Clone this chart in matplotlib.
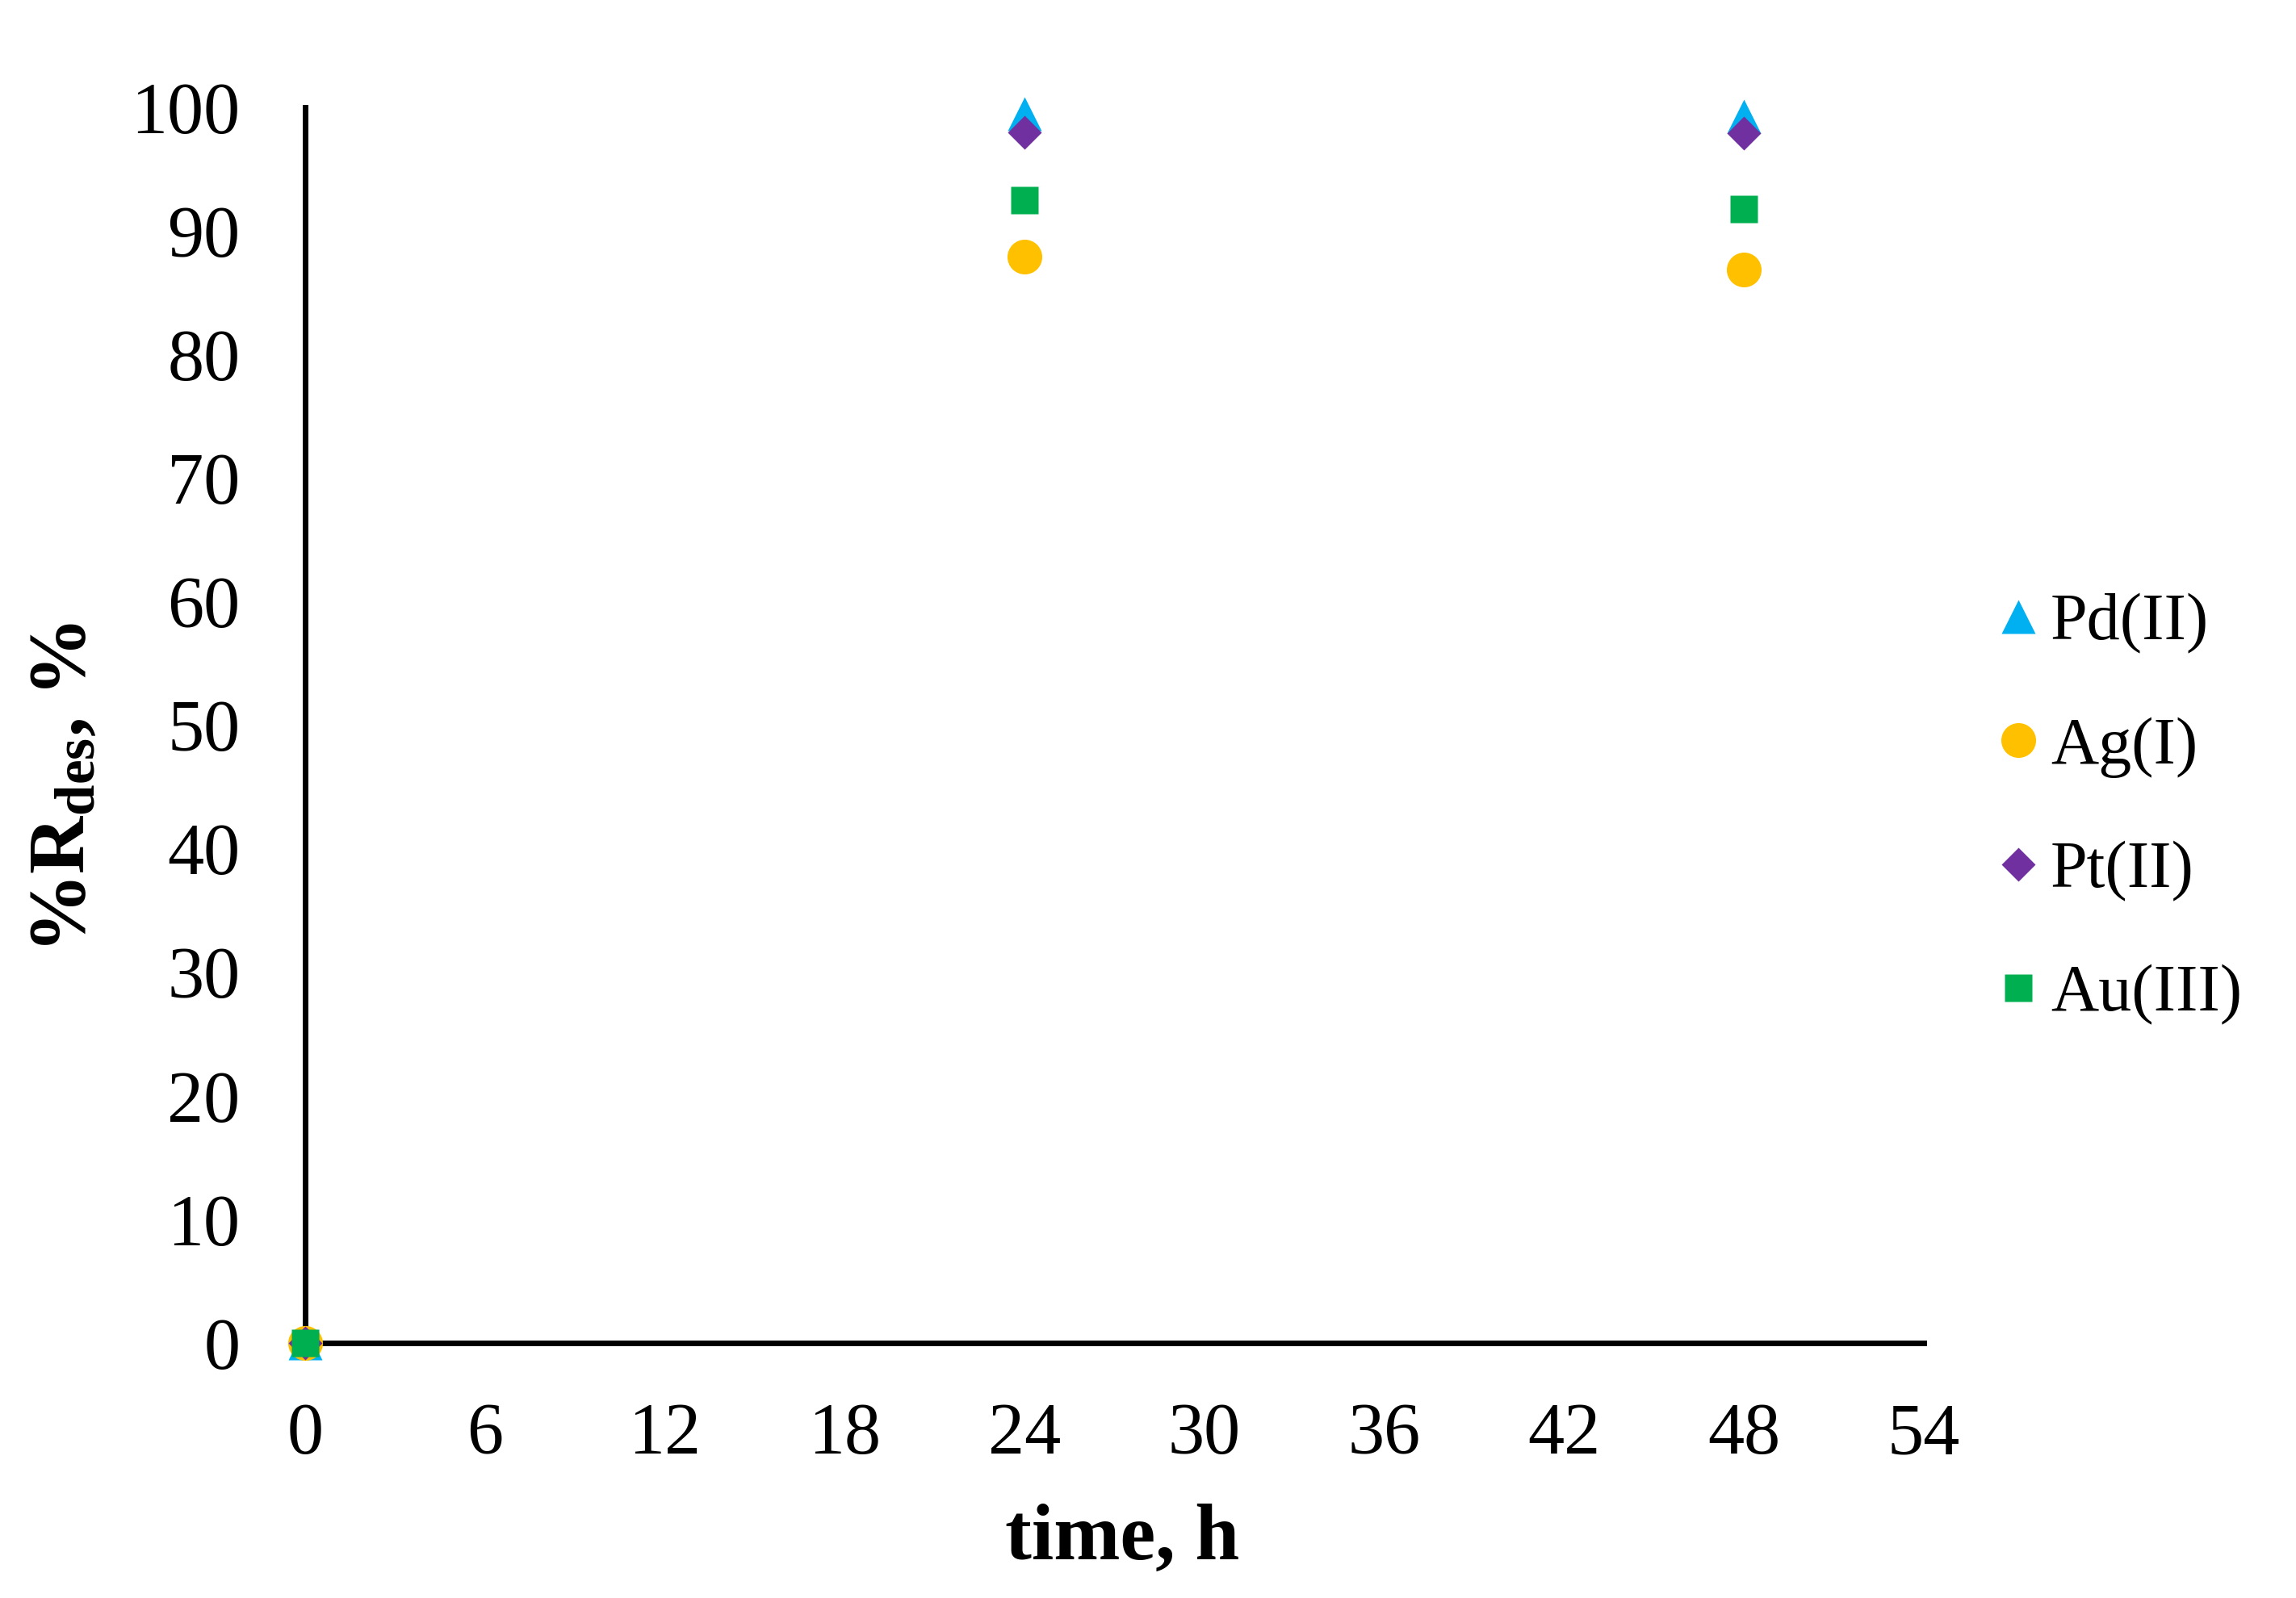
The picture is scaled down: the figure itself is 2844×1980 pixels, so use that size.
import matplotlib
matplotlib.use('Agg')
import matplotlib.pyplot as plt

# data
tiempo = [0, 24, 48]
pd_ii = [0, 99.5, 99.3]
ag_i = [0, 87.9, 86.9]
pt_ii = [0, 98.0, 97.9]
au_iii = [0, 92.5, 91.8]

xticks = list(range(0, 55, 6))
yticks = list(range(0, 101, 10))

plt.rcParams['font.family'] = 'Liberation Serif'
plt.rcParams['mathtext.fontset'] = 'custom'
plt.rcParams['mathtext.rm'] = 'Liberation Serif'
plt.rcParams['mathtext.bf'] = 'Liberation Serif:bold'

fig = plt.figure(figsize=(28.44, 19.80), dpi=100)
ax = fig.add_axes([378 / 2844, 1 - 1664 / 1980, (2383 - 378) / 2844, (1664 - 133) / 1980])

ax.plot(tiempo, pd_ii, linestyle='none', marker='^', ms=30, color='#00B0F0', mec='none', label='Pd(II)', clip_on=False, zorder=3)
ax.plot(tiempo, ag_i, linestyle='none', marker='o', ms=31, color='#FFC000', mec='none', label='Ag(I)', clip_on=False, zorder=3)
ax.plot(tiempo, pt_ii, linestyle='none', marker='D', ms=21.4, color='#7030A0', mec='none', label='Pt(II)', clip_on=False, zorder=3)
ax.plot(tiempo, au_iii, linestyle='none', marker='s', ms=24.5, color='#00B050', mec='none', label='Au(III)', clip_on=False, zorder=3)

ax.set_xlim(0, 54)
ax.set_ylim(0, 100)
ax.set_xticks(xticks)
ax.set_yticks(yticks)
ax.tick_params(axis='both', length=0, labelsize=65)
ax.tick_params(axis='x', pad=53)
ax.tick_params(axis='y', pad=58)

for lado in ['top', 'right']:
    ax.spines[lado].set_visible(False)
for lado in ['left', 'bottom']:
    ax.spines[lado].set_linewidth(5)

fig.text(1390 / 2844, 1 - 1932 / 1980, 'time, h', fontsize=71, fontweight='bold',
         ha='center', va='baseline')
fig.text(80 / 2844, 1 - 976 / 1980, r'%$\mathbf{R_{des}}$, %', fontsize=71, fontweight='bold',
         rotation=90, ha='center', va='center')

fig.legend(loc='center left', bbox_to_anchor=(2463 / 2844, 1 - 1003 / 1980), frameon=False,
           fontsize=59, numpoints=1, handlelength=0.9, handletextpad=0.04,
           labelspacing=0.95, borderpad=0, borderaxespad=0)

fig.savefig('out.png', dpi=100)
plt.close(fig)
